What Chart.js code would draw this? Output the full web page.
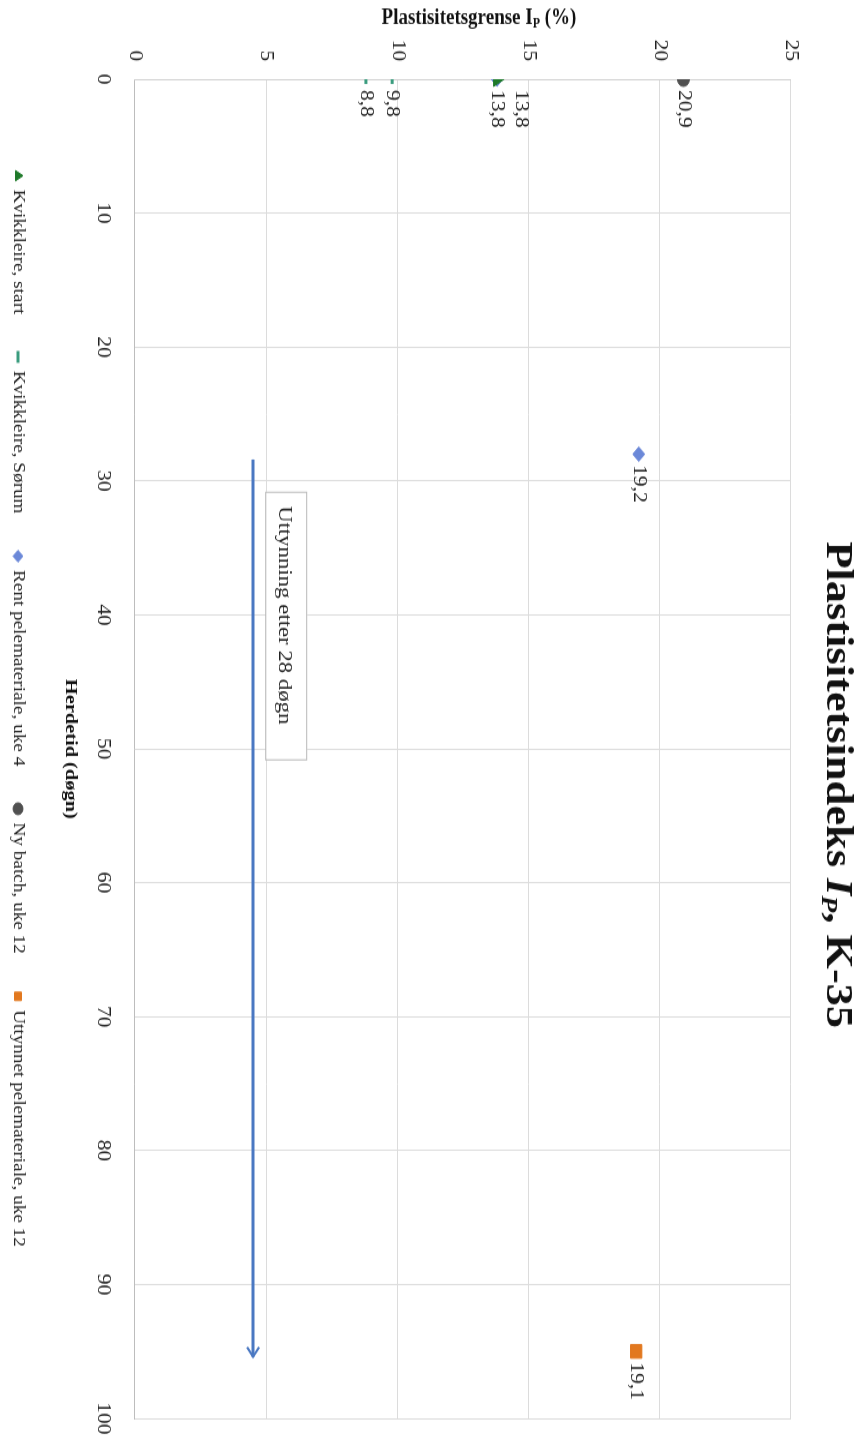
<!DOCTYPE html>
<html>
<head>
<meta charset="utf-8">
<script src="https://cdn.jsdelivr.net/npm/chart.js@4.4.1/dist/chart.umd.min.js"></script>
<style>
  html, body { margin: 0; padding: 0; background: #fff; overflow: hidden; }
  /* chart is drawn landscape, stretched a bit along its x axis like the scanned source,
     then turned a quarter clockwise */
  #wrap {
    position: absolute; left: 0; top: 0;
    width: 1200px; height: 858px;
    transform-origin: 0 0;
    transform: translateX(858px) rotate(90deg) scaleX(1.2);
  }
</style>
</head>
<body>
<div id="wrap"><canvas id="c" width="1200" height="858"></canvas></div>
<script>
// series (x = herdetid i døgn, y = plastisitetsindeks %)
const seriesNames = ['Kvikkleire, start', 'Kvikkleire, Sørum', 'Rent pelemateriale, uke 4', 'Ny batch, uke 12', 'Uttynnet pelemateriale, uke 12'];
const startDays = [0];
const startValues = [13.8];
const sorumDays = [0, 0];
const sorumValues = [8.8, 9.8];
const rentDays = [0, 28];
const rentValues = [13.8, 19.2];
const nyDays = [0];
const nyValues = [20.9];
const uttDays = [95];
const uttValues = [19.1];

// axis ticks
const dayTicks = [0, 10, 20, 30, 40, 50, 60, 70, 80, 90, 100];
const valueTicks = [0, 5, 10, 15, 20, 25];

// annotation: arrow + text box
const arrowDays = [28.4, 95.4];
const arrowLevel = 4.5;
const noteText = 'Uttynning etter 28 døgn';
const noteDay = 30.8;
const noteLevel = 5.0;

const serif = "'Liberation Serif', 'Times New Roman', serif";
Chart.defaults.font.family = serif;
Chart.defaults.color = '#222';

const W = 1200, H = 858;
const AREA_LEFT = 66, AREA_RIGHT = 1182, AREA_TOP = 67, AREA_BOTTOM = 723;

function pts(xs, ys) {
    return xs.map((d, i) => ({ x: d, y: ys[i] }));
}
const fmt = v => String(v).replace('.', ',');

// labels, arrow, text box and titles
const overlay = {
    id: 'overlay',
    afterDatasetsDraw(chart) {
        const { ctx, scales: { x, y } } = chart;
        ctx.save();

        // pil
        const ay = y.getPixelForValue(arrowLevel);
        const ax0 = x.getPixelForValue(arrowDays[0]);
        const ax1 = x.getPixelForValue(arrowDays[1]);
        ctx.strokeStyle = '#4a78c2';
        ctx.lineWidth = 3;
        ctx.beginPath();
        ctx.moveTo(ax0, ay);
        ctx.lineTo(ax1, ay);
        ctx.stroke();
        ctx.lineWidth = 2;
        ctx.beginPath();
        ctx.moveTo(ax1 - 8, ay - 6);
        ctx.lineTo(ax1, ay);
        ctx.lineTo(ax1 - 8, ay + 6);
        ctx.stroke();

        // tekstboks
        const bx = x.getPixelForValue(noteDay);
        const by = y.getPixelForValue(noteLevel);
        ctx.fillStyle = '#fff';
        ctx.strokeStyle = '#b8b8b8';
        ctx.lineWidth = 1;
        ctx.fillRect(bx, by - 41, 223, 41);
        ctx.strokeRect(bx + 0.5, by - 40.5, 223, 41);
        ctx.fillStyle = '#222';
        ctx.font = '19px ' + serif;
        ctx.textAlign = 'left';
        ctx.textBaseline = 'middle';
        ctx.fillText(noteText, bx + 12, by - 18);

        // dataetiketter
        ctx.font = '18px ' + serif;
        const placed = [];
        chart.data.datasets.forEach((ds, di) => {
            const meta = chart.getDatasetMeta(di);
            meta.data.forEach((el, i) => {
                const txt = fmt(ds.data[i].y);
                const w = ctx.measureText(txt).width;
                let tx = el.x + 9, ty = el.y;
                const hit = () => placed.some(r => tx < r.x + r.w && tx + w > r.x && Math.abs(ty - r.y) < 18);
                while (hit()) ty -= 24;
                placed.push({ x: tx, y: ty, w: w });
                ctx.fillText(txt, tx, ty);
            });
        });
        ctx.restore();
    },
    afterDraw(chart) {
        const { ctx, chartArea } = chart;
        ctx.save();
        ctx.fillStyle = '#111';
        ctx.textBaseline = 'middle';

        // hovedtittel med kursiv I_P
        const big = 'bold 37px ' + serif, bigIt = 'italic bold 37px ' + serif, sub = 'italic bold 23px ' + serif;
        const parts = [['Plastisitetsindeks ', big, 0], ['I', bigIt, 0], ['P', sub, 9], [', K-35', big, 0]];
        let total = 0;
        parts.forEach(p => { ctx.font = p[1]; total += ctx.measureText(p[0]).width; });
        let cx = 654 - total / 2;
        parts.forEach(p => {
            ctx.font = p[1];
            ctx.textAlign = 'left';
            ctx.fillText(p[0], cx, 21 + p[2]);
            cx += ctx.measureText(p[0]).width;
        });

        // y-aksetittel (rotert)
        const yt = [['Plastisitetsgrense I', 'bold 19px ' + serif, 0], ['P', 'bold 12px ' + serif, 5], [' (%)', 'bold 19px ' + serif, 0]];
        let tw = 0;
        yt.forEach(p => { ctx.font = p[1]; tw += ctx.measureText(p[0]).width; });
        ctx.translate(15, (chartArea.top + chartArea.bottom) / 2 - 16);
        ctx.rotate(-Math.PI / 2);
        let px = -tw / 2;
        yt.forEach(p => {
            ctx.font = p[1];
            ctx.fillText(p[0], px, p[2]);
            px += ctx.measureText(p[0]).width;
        });
        ctx.setTransform(1, 0, 0, 1, 0, 0);

        // x-aksetittel
        ctx.font = 'bold 17px ' + serif;
        ctx.textAlign = 'center';
        ctx.fillText('Herdetid (døgn)', (chartArea.left + chartArea.right) / 2, 788);
        ctx.restore();
    }
};

const ctx = document.getElementById('c').getContext('2d');
new Chart(ctx, {
    type: 'scatter',
    data: {
        datasets: [
            {
                label: seriesNames[0], data: pts(startDays, startValues),
                pointStyle: 'triangle', pointRadius: 7,
                backgroundColor: '#1f7a2a', borderColor: '#1f7a2a', borderWidth: 1
            },
            {
                label: seriesNames[1], data: pts(sorumDays, sorumValues),
                pointStyle: 'line', pointRadius: 4,
                backgroundColor: '#3a9c7e', borderColor: '#3a9c7e', borderWidth: 3
            },
            {
                label: seriesNames[2], data: pts(rentDays, rentValues),
                pointStyle: 'rectRot', pointRadius: 6,
                backgroundColor: '#6b88d8', borderColor: '#6b88d8', borderWidth: 1
            },
            {
                label: seriesNames[3], data: pts(nyDays, nyValues),
                pointStyle: 'circle', pointRadius: 6,
                backgroundColor: '#505050', borderColor: '#505050', borderWidth: 1
            },
            {
                label: seriesNames[4], data: pts(uttDays, uttValues),
                pointStyle: 'rect', pointRadius: 8,
                backgroundColor: '#e2781f', borderColor: '#e2781f', borderWidth: 1
            }
        ]
    },
    options: {
        responsive: false,
        animation: false,
        devicePixelRatio: 1,
        layout: { padding: { top: AREA_TOP, right: W - AREA_RIGHT, left: 0, bottom: 0 } },
        plugins: {
            legend: {
                position: 'bottom',
                labels: {
                    usePointStyle: true,
                    boxWidth: 7,
                    boxHeight: 7,
                    padding: 32,
                    color: '#222',
                    font: { size: 16, family: serif }
                }
            },
            tooltip: { enabled: false },
            title: { display: false }
        },
        scales: {
            x: {
                type: 'linear',
                min: 0,
                max: 100,
                afterBuildTicks: s => { s.ticks = dayTicks.map(v => ({ value: v })); },
                afterFit: s => {
                    s.height = H - AREA_BOTTOM - s.chart.legend.height;
                    s.paddingLeft = 0;
                    s.paddingRight = 0;
                },
                ticks: { padding: 21, color: '#222', font: { size: 18, family: serif } },
                grid: { color: '#dcdcdc', drawTicks: false },
                border: { color: '#bdbdbd' }
            },
            y: {
                type: 'linear',
                min: 0,
                max: 25,
                afterBuildTicks: s => { s.ticks = valueTicks.map(v => ({ value: v })); },
                afterFit: s => {
                    s.width = AREA_LEFT;
                    s.paddingTop = 0;
                    s.paddingBottom = 0;
                },
                ticks: { padding: 15, color: '#222', font: { size: 18, family: serif } },
                grid: { color: '#dcdcdc', drawTicks: false },
                border: { color: '#d0d0d0' }
            }
        }
    },
    plugins: [overlay]
});
</script>
</body>
</html>
